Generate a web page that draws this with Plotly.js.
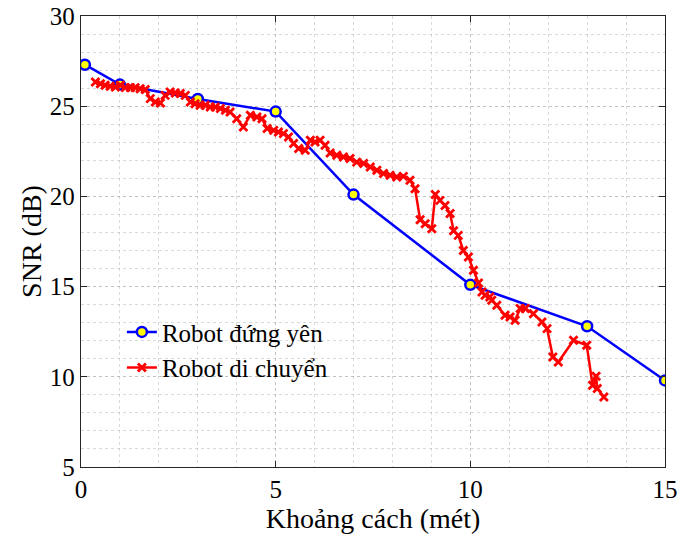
<!DOCTYPE html>
<html>
<head>
<meta charset="utf-8">
<script src="https://cdn.plot.ly/plotly-3.0.1.min.js"></script>
<style>html,body{margin:0;padding:0;background:#fff;}#chart{width:694px;height:540px;}</style>
</head>
<body>
<div id="chart"></div>
<script>
var staticX = [0.1, 1, 3, 5, 7, 10, 13, 15];
var staticY = [27.3, 26.2, 25.4, 24.7, 20.1, 15.1, 12.8, 9.8];

var movingX = [0.37, 0.5, 0.62, 0.75, 0.88, 1.01, 1.14, 1.27, 1.39, 1.52, 1.65, 1.78, 1.91, 2.04, 2.16, 2.29, 2.42, 2.55, 2.68, 2.81, 2.93, 3.06, 3.19, 3.32, 3.45, 3.58, 3.71, 3.83, 4.0, 4.17, 4.35, 4.52, 4.65, 4.78, 4.95, 5.07, 5.2, 5.33, 5.46, 5.59, 5.76, 5.89, 6.01, 6.14, 6.27, 6.4, 6.57, 6.74, 6.91, 7.08, 7.26, 7.43, 7.6, 7.77, 7.94, 8.11, 8.28, 8.45, 8.58, 8.71, 8.84, 9.01, 9.1, 9.22, 9.35, 9.48, 9.57, 9.69, 9.82, 9.95, 10.08, 10.21, 10.3, 10.38, 10.5, 10.55, 10.68, 10.89, 11.02, 11.15, 11.28, 11.41, 11.62, 11.84, 11.97, 12.12, 12.26, 12.65, 12.99, 13.14, 13.23, 13.26, 13.43];
var movingY = [26.34, 26.25, 26.16, 26.1, 26.06, 26.16, 26.03, 26.03, 26.03, 25.97, 25.92, 25.42, 25.23, 25.18, 25.6, 25.79, 25.73, 25.7, 25.6, 25.23, 25.14, 25.05, 25.05, 24.96, 24.96, 24.87, 24.77, 24.68, 24.31, 23.85, 24.5, 24.4, 24.31, 23.76, 23.66, 23.57, 23.48, 23.29, 22.93, 22.65, 22.56, 23.11, 23.02, 23.11, 22.83, 22.4, 22.28, 22.18, 22.1, 21.9, 21.82, 21.63, 21.45, 21.27, 21.17, 21.08, 21.11, 20.9, 20.43, 18.71, 18.49, 18.21, 20.1, 19.78, 19.5, 19.05, 18.1, 17.84, 17.0, 16.64, 15.9, 15.2, 14.7, 14.52, 14.42, 14.24, 13.96, 13.41, 13.32, 13.13, 13.78, 13.78, 13.5, 13.04, 12.67, 11.1, 10.82, 12.02, 11.75, 9.53, 10.03, 9.35, 8.88];

var xTicks = [0, 5, 10, 15];
var yTicks = [5, 10, 15, 20, 25, 30];
var seriesNames = ['Robot đứng yên', 'Robot di chuyển'];

var FONT = 'Liberation Serif, Times New Roman, serif';

var traces = [
  {
    x: staticX, y: staticY, name: seriesNames[0], type: 'scatter', mode: 'lines+markers',
    line: {color: '#0000ff', width: 2.5},
    marker: {symbol: 'circle', size: 10, color: '#ffff00', line: {color: '#0000ff', width: 2.5}}
  },
  {
    x: movingX, y: movingY, name: seriesNames[1], type: 'scatter', mode: 'lines+markers',
    line: {color: '#ff0000', width: 2.5},
    marker: {symbol: 'x-thin-open', size: 8, color: '#ff0000', line: {color: '#ff0000', width: 2.8}}
  }
];

var gridCol = 'rgba(160,160,160,0.4)';
var axisCommon = {
  showline: true, mirror: 'ticks', linecolor: '#262626', linewidth: 1.2,
  ticks: 'inside', ticklen: 6, tickcolor: '#262626', tickwidth: 1,
  showgrid: true, gridcolor: gridCol, griddash: 'dot', gridwidth: 1,
  zeroline: false, automargin: false,
  tickfont: {family: FONT, size: 25, color: '#000'}
};

var layout = {
  width: 694, height: 540,
  margin: {l: 81, r: 29, t: 16, b: 73},
  paper_bgcolor: '#fff', plot_bgcolor: '#fff',
  showlegend: true,
  legend: {
    x: 0.07, y: 0.35, xanchor: 'left', yanchor: 'top',
    bgcolor: 'rgba(255,255,255,0)', borderwidth: 0,
    font: {family: FONT, size: 25, color: '#000'},
    tracegroupgap: 0
  },
  xaxis: Object.assign({}, axisCommon, {
    range: [0, 15], tickmode: 'array', tickvals: xTicks, ticktext: xTicks.map(String),
    minor: {dtick: 1, tick0: 0, showgrid: true, gridcolor: gridCol, griddash: 'dot', gridwidth: 1, ticks: ''},
    title: {text: 'Khoảng cách (mét)', standoff: 4, font: {family: FONT, size: 28, color: '#000'}}
  }),
  yaxis: Object.assign({}, axisCommon, {
    range: [5, 30], tickmode: 'array', tickvals: yTicks, ticktext: yTicks.map(String),
    minor: {dtick: 1, tick0: 0, showgrid: true, gridcolor: gridCol, griddash: 'dot', gridwidth: 1, ticks: ''},
    title: {text: 'SNR (dB)', standoff: 0, font: {family: FONT, size: 28, color: '#000'}}
  })
};

Plotly.newPlot('chart', traces, layout, {displayModeBar: false, staticPlot: true});
</script>
</body>
</html>
